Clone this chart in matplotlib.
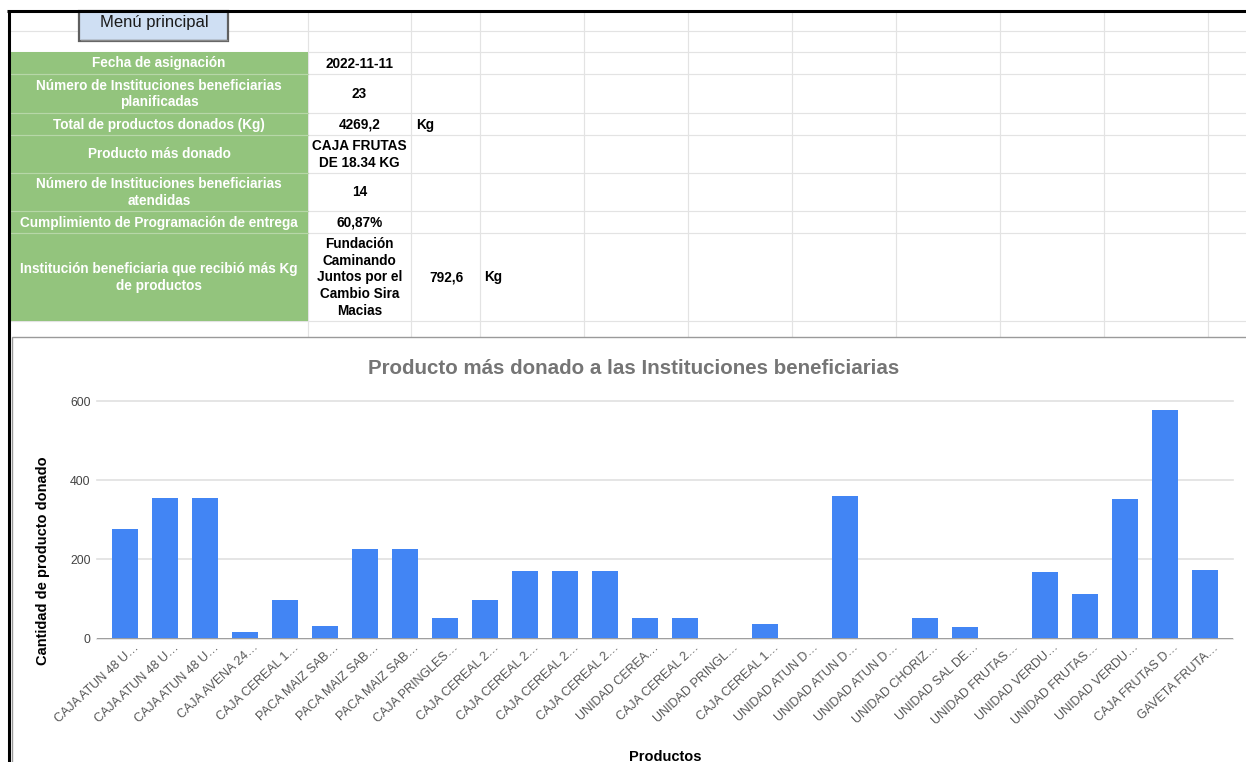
import matplotlib
matplotlib.use('Agg')
import matplotlib.pyplot as plt
from matplotlib.patches import Rectangle
import matplotlib.transforms as mtransforms

plt.rcParams['font.family'] = ['Liberation Sans', 'DejaVu Sans']

# ---------------- data ----------------
categories = [
    "CAJA ATUN 48 U…", "CAJA ATUN 48 U…", "CAJA ATUN 48 U…", "CAJA AVENA 24…",
    "CAJA CEREAL 1…", "PACA MAIZ SAB…", "PACA MAIZ SAB…", "PACA MAIZ SAB…",
    "CAJA PRINGLES…", "CAJA CEREAL 2…", "CAJA CEREAL 2…", "CAJA CEREAL 2…",
    "CAJA CEREAL 2…", "UNIDAD CEREA…", "CAJA CEREAL 2…", "UNIDAD PRINGL…",
    "CAJA CEREAL 1…", "UNIDAD ATUN D…", "UNIDAD ATUN D…", "UNIDAD ATUN D…",
    "UNIDAD CHORIZ…", "UNIDAD SAL DE…", "UNIDAD FRUTAS…", "UNIDAD VERDU…",
    "UNIDAD FRUTAS…", "UNIDAD VERDU…", "CAJA FRUTAS D…", "GAVETA FRUTA…",
]
values = [277, 354, 354, 18, 97, 33, 227, 227, 51, 97, 170, 170, 170, 51,
          51, 0, 38, 2.5, 360, 1, 51, 30, 2.5, 168, 112, 352, 577, 173]
y_ticks = [0, 200, 400, 600]

summary_labels = [
    "Fecha de asignación",
    "Número de Instituciones beneficiarias\nplanificadas",
    "Total de productos donados (Kg)",
    "Producto más donado",
    "Número de Instituciones beneficiarias\natendidas",
    "Cumplimiento de Programación de entrega",
    "Institución beneficiaria que recibió más Kg\nde productos",
]
summary_values = [
    "2022-11-11", "23", "4269,2", "CAJA FRUTAS\nDE 18.34 KG", "14", "60,87%",
    "Fundación\nCaminando\nJuntos por el\nCambio Sira\nMacias",
]
title = "Producto más donado a las Instituciones beneficiarias"

# ---------------- figure ----------------
W, H = 1246, 762
fig = plt.figure(figsize=(W / 100, H / 100), dpi=100)
bg = fig.add_axes([0, 0, 1, 1])
bg.set_xlim(0, W)
bg.set_ylim(H, 0)
bg.axis('off')

px = 0.72
grid_c = '#e3e3e3'
col_x = [308, 411, 480, 584, 688, 792, 896, 1000, 1104, 1208]
row_edges = [31, 52, 74, 113, 135, 173, 211, 233, 321]

for y in row_edges:
    bg.plot([8, W], [y, y], color=grid_c, lw=1.2 * px, zorder=1)
for x in col_x:
    bg.plot([x, x], [11, 337], color=grid_c, lw=1.2 * px, zorder=1)

# green block
bg.add_patch(Rectangle((10, 52), 298, 321 - 52, facecolor='#93c47d',
                       edgecolor='none', zorder=2))
for y in row_edges[2:-1]:
    bg.plot([10, 308], [y, y], color='#b7d7a8', lw=1.2 * px, zorder=2.5)

row_bounds = list(zip(row_edges[1:-1], row_edges[2:]))
for (y0, y1), lab, val in zip(row_bounds, summary_labels, summary_values):
    yc = (y0 + y1) / 2
    bg.text(159, yc + 0.5, lab, ha='center', va='center', color='white',
            fontsize=9.8, fontweight='bold', linespacing=1.21, zorder=5)
    bg.text(359.5, yc + 0.5, val, ha='center', va='center', color='black',
            fontsize=9.8, fontweight='bold', linespacing=1.26, zorder=5)

bg.text(416, 124.5, "Kg", ha='left', va='center', fontsize=9.8,
        fontweight='bold', color='black', zorder=5)
bg.text(446, 277.5, "792,6", ha='center', va='center', fontsize=9.8,
        fontweight='bold', color='black', zorder=5)
bg.text(484, 277.5, "Kg", ha='left', va='center', fontsize=9.8,
        fontweight='bold', color='black', zorder=5)

# menu button
bg.add_patch(Rectangle((79, 11), 149, 30, facecolor='#cfdff3',
                       edgecolor='#5f5f5f', lw=1.6, zorder=6))
bg.plot([81, 227], [39.5, 39.5], color='#8a8a8a', lw=1.0, zorder=6.5)
bg.text(154, 23, "Menú principal", ha='center', va='center', fontsize=12,
        color='#1a1a1a', zorder=7)

# black frame lines
bg.plot([7, W], [11, 11], color='black', lw=2.2, zorder=8, solid_capstyle='butt')
bg.plot([8.5, 8.5], [11, H], color='black', lw=2.2, zorder=8, solid_capstyle='butt')

# chart container
bg.add_patch(Rectangle((12, 337), W, H, facecolor='white',
                       edgecolor='#9a9a9a', lw=1.0, zorder=9))

fig.text(634 / W, 1 - 369 / H, title, ha='center', va='center',
         fontsize=14.8, fontweight='bold', color='#757575', zorder=20)

# ---------------- chart ----------------
y0, y600 = 638.7, 401.0
ax = fig.add_axes([97 / W, (H - y0) / H, 1136 / W, (y0 - y600) / H])
ax.set_facecolor('none')
ax.set_zorder(10)
xs = list(range(len(values)))
ax.bar(xs, values, width=0.63, color='#4285f4', zorder=3)
ax.set_xlim(-0.7, len(values) - 0.3)
ax.set_ylim(0, 600)
ax.set_yticks(y_ticks)
ax.yaxis.grid(True, color='#e0e0e0', lw=1.2, zorder=0)
ax.set_axisbelow(True)
for s in ax.spines.values():
    s.set_visible(False)
ax.axhline(0, color='#9e9e9e', lw=1.4, zorder=4)
for line in ax.get_ygridlines():
    line.set_clip_on(False)

ax.tick_params(axis='y', length=0, pad=4.5, labelsize=8.8, labelcolor='#444444')
ax.tick_params(axis='x', length=0, pad=5, labelsize=9, labelcolor='#555555')
ax.set_xticks(xs)
ax.set_xticklabels(categories, rotation=43, ha='right', va='center',
                   rotation_mode='anchor')
off = mtransforms.ScaledTranslation(12 / 100, 0, fig.dpi_scale_trans)
for lbl in ax.get_xticklabels():
    lbl.set_transform(lbl.get_transform() + off)

ax.set_ylabel("Cantidad de producto donado", fontsize=10.5, fontweight='bold',
              color='black', va='center')
ax.yaxis.set_label_coords((43 - 97) / 1136, (y0 - 561) / (y0 - y600))
ax.set_xlabel("Productos", fontsize=10.5, fontweight='bold', color='black',
              va='center')
ax.xaxis.set_label_coords(0.5, (y0 - 757) / (y0 - y600))

fig.savefig('out.png', dpi=100)
